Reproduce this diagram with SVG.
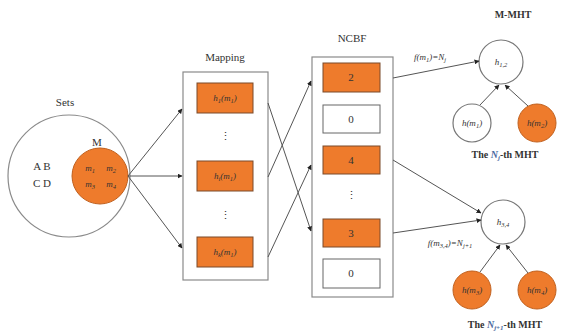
<svg xmlns="http://www.w3.org/2000/svg" width="562" height="334" viewBox="0 0 562 334" font-family="'Liberation Serif', 'DejaVu Serif', serif">
<style>
text{font-family:'Liberation Serif','DejaVu Serif',serif;fill:#333;}
.t{font-size:11px;text-anchor:middle;}
.s{font-size:9px;text-anchor:middle;font-style:italic;}
.frame{fill:#fff;stroke:#8a8a8a;stroke-width:1.2;}
.ob{fill:#EE7B2C;stroke:#7a4a2a;stroke-width:1;}
.wb{fill:#fff;stroke:#666;stroke-width:1;}
.oc{fill:#EE7B2C;stroke:#c0601e;stroke-width:1;}
.wc{fill:#fff;stroke:#777;stroke-width:1.2;}
.ln{stroke:#555;stroke-width:1;fill:none;marker-end:url(#ah);}
.lb{font-size:10px;font-weight:bold;text-anchor:middle;}
.sub{font-size:6.5px;}
</style>
<defs>
<marker id="ah" markerWidth="5" markerHeight="5" refX="4.5" refY="2.5" orient="auto" markerUnits="userSpaceOnUse">
<path d="M0,0 L5,2.5 L0,5 Z" fill="#222"/>
</marker>
</defs>
<rect width="562" height="334" fill="#fff"/>

<g id="sets">
<text class="t" x="65" y="106">Sets</text>
<circle cx="69" cy="176" r="61" fill="#fff" stroke="#8a8a8a" stroke-width="1.2"/>
<text class="t" x="42" y="170">A B</text>
<text class="t" x="42" y="187">C D</text>
</g>
<g id="setM">
<text class="t" x="97" y="146">M</text>
<circle class="oc" cx="100" cy="176" r="28"/>
<text class="s" x="90" y="171">m<tspan class="sub" dy="2">1</tspan></text>
<text class="s" x="111" y="171">m<tspan class="sub" dy="2">2</tspan></text>
<text class="s" x="90" y="187">m<tspan class="sub" dy="2">3</tspan></text>
<text class="s" x="111" y="187">m<tspan class="sub" dy="2">4</tspan></text>
</g>

<g id="mapping">
<text class="t" x="225" y="61">Mapping</text>
<rect class="frame" x="183" y="72" width="85" height="208"/>
<rect class="ob" x="197" y="83" width="56" height="30"/>
<text class="s" x="225" y="101">h<tspan class="sub" dy="2">1</tspan><tspan dy="-2">(m</tspan><tspan class="sub" dy="2">1</tspan><tspan dy="-2">)</tspan></text>
<text class="t" x="225" y="140" font-size="10">⋮</text>
<rect class="ob" x="197" y="161" width="56" height="30"/>
<text class="s" x="225" y="179">h<tspan class="sub" dy="2">i</tspan><tspan dy="-2">(m</tspan><tspan class="sub" dy="2">1</tspan><tspan dy="-2">)</tspan></text>
<text class="t" x="225" y="219" font-size="10">⋮</text>
<rect class="ob" x="197" y="237" width="56" height="30"/>
<text class="s" x="225" y="255">h<tspan class="sub" dy="2">k</tspan><tspan dy="-2">(m</tspan><tspan class="sub" dy="2">1</tspan><tspan dy="-2">)</tspan></text>
</g>

<g id="ncbf">
<text class="t" x="352" y="42">NCBF</text>
<rect class="frame" x="312" y="57" width="81" height="240"/>
<rect class="ob" x="323" y="63" width="57" height="29"/>
<text class="t" x="351" y="81" font-size="10">2</text>
<rect class="wb" x="323" y="105" width="57" height="28"/>
<text class="t" x="351" y="123" font-size="10">0</text>
<rect class="ob" x="323" y="146" width="57" height="28"/>
<text class="t" x="351" y="164" font-size="10">4</text>
<text class="t" x="351" y="199" font-size="10">⋮</text>
<rect class="ob" x="323" y="219" width="57" height="28"/>
<text class="t" x="351" y="237" font-size="10">3</text>
<rect class="wb" x="323" y="259" width="57" height="29"/>
<text class="t" x="351" y="277" font-size="10">0</text>
</g>

<g id="mmht-top">
<text class="lb" x="513" y="18">M-MHT</text>
<circle class="wc" cx="501" cy="62" r="22"/>
<text class="s" x="501" y="65">h<tspan class="sub" dy="2">1,2</tspan></text>
<circle class="wc" cx="472" cy="123" r="19"/>
<text class="s" x="472" y="126">h(m<tspan class="sub" dy="2">1</tspan><tspan dy="-2">)</tspan></text>
<circle class="oc" cx="537" cy="123" r="19"/>
<text class="s" x="537" y="126">h(m<tspan class="sub" dy="2">2</tspan><tspan dy="-2">)</tspan></text>
<text class="lb" x="505" y="158">The <tspan font-style="italic" fill="#4a6aa0">N</tspan><tspan font-style="italic" fill="#4a6aa0" font-size="7" dy="2">j</tspan><tspan dy="-2">-th MHT</tspan></text>
</g>

<g id="mmht-bottom">
<circle class="wc" cx="503" cy="222" r="22"/>
<text class="s" x="503" y="225">h<tspan class="sub" dy="2">3,4</tspan></text>
<circle class="oc" cx="472" cy="290" r="19"/>
<text class="s" x="472" y="293">h(m<tspan class="sub" dy="2">3</tspan><tspan dy="-2">)</tspan></text>
<circle class="oc" cx="537" cy="290" r="19"/>
<text class="s" x="537" y="293">h(m<tspan class="sub" dy="2">4</tspan><tspan dy="-2">)</tspan></text>
<text class="lb" x="505" y="328">The <tspan font-style="italic" fill="#4a6aa0">N</tspan><tspan font-style="italic" fill="#4a6aa0" font-size="7" dy="2">j+1</tspan><tspan dy="-2">-th MHT</tspan></text>
</g>

<g id="connectors">
<line class="ln" x1="128" y1="176" x2="182" y2="109"/>
<line class="ln" x1="128" y1="176" x2="182" y2="176"/>
<line class="ln" x1="128" y1="176" x2="182" y2="248"/>
<line class="ln" x1="268" y1="103" x2="311" y2="231"/>
<line class="ln" x1="268" y1="177" x2="311" y2="81"/>
<line class="ln" x1="268" y1="257" x2="311" y2="165"/>
<line class="ln" x1="393" y1="78" x2="479" y2="61"/>
<line class="ln" x1="393" y1="160" x2="481" y2="213"/>
<line class="ln" x1="393" y1="233" x2="481" y2="220"/>
<line class="ln" x1="480" y1="105" x2="499" y2="85"/>
<line class="ln" x1="528" y1="106" x2="505" y2="85"/>
<line class="ln" x1="480" y1="272" x2="500" y2="245"/>
<line class="ln" x1="528" y1="273" x2="506" y2="245"/>
<text class="s" x="430" y="60">f(m<tspan class="sub" dy="2">1</tspan><tspan dy="-2">)=N</tspan><tspan class="sub" dy="2">j</tspan></text>
<text class="s" x="450" y="246">f(m<tspan class="sub" dy="2">3,4</tspan><tspan dy="-2">)=N</tspan><tspan class="sub" dy="2">j+1</tspan></text>
</g>
</svg>
